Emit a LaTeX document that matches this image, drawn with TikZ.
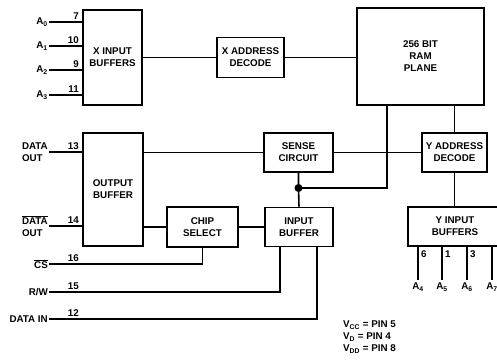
\documentclass[tikz,border=0pt]{standalone}
\usepackage{fontspec}
\setmainfont{Liberation Sans}

\begin{document}
\begin{tikzpicture}[x=1pt, y=-1pt, font=\fontsize{9.8}{12}\selectfont\bfseries]
% --- Global Styles ---
\tikzstyle{block} = [draw, line width=1.8pt, inner sep=0pt, align=center]
\tikzstyle{wire} = [line width=1.6pt]
\tikzstyle{pin} = [anchor=south east, inner sep=0pt]
\tikzstyle{sig} = [left, inner sep=1pt, align=left]

% --- Frame of the reference ---
\useasboundingbox (0,0) rectangle (497,362);
\clip (0,0) rectangle (497,362);

% --- Key Rows ---
\def\ycs{264}   % CS line
\def\yrw{292}   % R/W line
\def\ydin{319}  % DATA IN line
\def\xin{49}    % left end of input wires

% ==========================================
% BLOCKS
% ==========================================
\node[block, minimum width=59pt, minimum height=95pt] (xbuf) at (112.5,57.5) {X INPUT\\BUFFERS};
\node[block, minimum width=67pt, minimum height=40pt] (xdec) at (250.5,57.5) {X ADDRESS\\DECODE};
\node[block, minimum width=127pt, minimum height=97pt] (ram) at (420.5,56.5) {256 BIT\\RAM\\PLANE};
\node[block, minimum width=60pt, minimum height=113pt] (obuf) at (113,189.5) {OUTPUT\\BUFFER};
\node[block, minimum width=69pt, minimum height=39pt] (sense) at (298.5,152.5) {SENSE\\CIRCUIT};
\node[block, minimum width=65pt, minimum height=39pt] (ydec) at (454.5,152.5) {Y ADDRESS\\DECODE};
\node[block, minimum width=71pt, minimum height=40pt] (chip) at (202.5,227) {CHIP\\SELECT};
\node[block, minimum width=68pt, minimum height=39pt] (ibuf) at (299,227) {INPUT\\BUFFER};
\node[block, minimum width=94pt, minimum height=39pt] (ybuf) at (455,226.5) {Y INPUT\\BUFFERS};

% ==========================================
% X ADDRESS INPUTS
% ==========================================
\foreach \y/\p/\i in {22/7/0, 46/10/1, 70/9/2, 95/11/3} {
  \coordinate (a\i) at (\xin,\y);
  \draw[wire] (a\i) -- (a\i -| xbuf.west);
  \node[sig] at (a\i) {A\textsubscript{\i}};
  \node[pin] at (79,\y-2) {\p};
}
\draw[wire] (xbuf.east |- xdec.west) -- (xdec.west);
\draw[wire] (xdec.east) -- (xdec.east -| ram.west);

% ==========================================
% DATA OUTPUTS
% ==========================================
\coordinate (dout) at (\xin,152);
\coordinate (ndout) at (\xin,226);
\draw[wire] (dout) -- (dout -| obuf.west);
\draw[wire] (ndout) -- (ndout -| obuf.west);
\node[sig] at (dout) {DATA\\OUT};
\node[sig] at (ndout) {$\overline{\mbox{DATA}}$\\OUT};
\node[pin] at (79,150) {13};
\node[pin] at (79,224) {14};

\draw[wire] (sense.west -| obuf.east) -- (sense.west);
\draw[wire] (chip.west -| obuf.east) -- (chip.west);
\draw[wire] (chip.east) -- (ibuf.west);

% ==========================================
% SENSE / INPUT BUFFER JUNCTION
% ==========================================
\coordinate (dot) at (298.5,188);
\coordinate (ramL) at (387,105);
\coordinate (ramR) at (ydec.north |- ram.south);
\draw[wire] (sense.south) -- (dot) -- (ibuf.north);
\fill (dot) circle (4pt);
\draw[wire] (dot) -- (dot -| ramL) -- (ramL);
\draw[wire] (sense.east) -- (ydec.west);
\draw[wire] (ramR) -- (ydec.north);
\draw[wire] (ydec.south) -- (ybuf.north -| ydec.south);

% ==========================================
% Y ADDRESS INPUTS
% ==========================================
\foreach \x/\i in {418/4, 442/5, 467/6, 492/7} {
  \draw[wire] (\x,0 |- ybuf.south) -- (\x,280) node[below, inner sep=2pt] {A\textsubscript{\i}};
}
\foreach \x/\p in {418/6, 442/1, 467/3} {
  \node[anchor=west, inner sep=0pt] at (\x+3,254) {\p};
}

% ==========================================
% CONTROL INPUTS
% ==========================================
\coordinate (cs) at (\xin,\ycs);
\coordinate (rw) at (\xin,\yrw);
\coordinate (din) at (\xin,\ydin);
\draw[wire] (cs) -- (cs -| chip.south) -- (chip.south);
\draw[wire] (rw) -- (rw -| 280,0) -- (280,0 |- ibuf.south);
\draw[wire] (din) -- (din -| 317,0) -- (317,0 |- ibuf.south);
\node[sig] at (cs) {$\overline{\mbox{CS}}$};
\node[sig] at (rw) {R/W};
\node[sig] at (din) {DATA IN};
\node[pin] at (79,\ycs-2) {16};
\node[pin] at (79,\yrw-2) {15};
\node[pin] at (79,\ydin-2) {12};

% --- Supply pins ---
\node[anchor=north west, inner sep=0pt, align=left] (supply) at (343,321)
  {V\textsubscript{CC} = PIN 5\\V\textsubscript{D} = PIN 4\\V\textsubscript{DD} = PIN 8};

\end{tikzpicture}
\end{document}
